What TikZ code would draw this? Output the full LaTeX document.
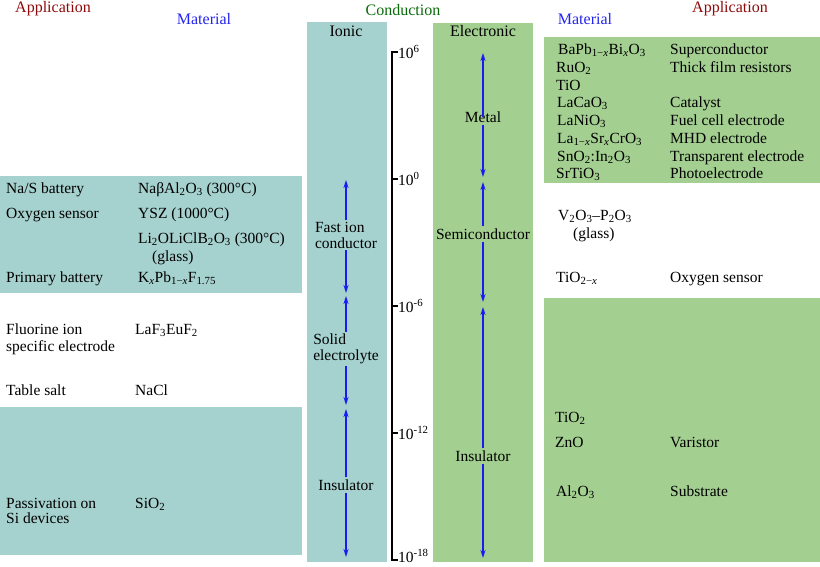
\documentclass[tikz,border=0pt]{standalone}
\usepackage{fontspec}
\setmainfont{Liberation Serif}
\usetikzlibrary{arrows.meta}
\newcommand\myfs{\fontsize{15.5}{16}\selectfont}
\newcommand\chsub[1]{\textsubscript{#1}}
\definecolor{ionteal}{HTML}{A5D1CE}
\definecolor{elgreen}{HTML}{A3CF90}
\definecolor{apred}{HTML}{8E0A0A}
\definecolor{matblue}{HTML}{2424F0}
\definecolor{condgreen}{HTML}{0A6A0A}
\definecolor{arrblue}{HTML}{1A1AF5}
\begin{document}
\begin{tikzpicture}[x=1pt,y=-1pt,
  txt/.style={anchor=base west,inner sep=0pt,font=\myfs},
  hdr/.style={anchor=center,inner sep=0pt,font=\fontsize{16}{18}\selectfont},
  lbl/.style={anchor=center,inner sep=2pt,font=\myfs,align=center},
  arr/.style={draw=arrblue,line width=1.4pt,-{Stealth[length=8pt,width=5pt]}},
  tick/.style={line width=2pt},
  ticklbl/.style={anchor=base west,inner sep=0pt,font=\myfs}]
\useasboundingbox (0,0) rectangle (820,566);
% background panels
\fill[ionteal] (0,176) rectangle (302,293);
\fill[ionteal] (0,407) rectangle (302,555);
\fill[ionteal] (307,22) rectangle (387,562);
\fill[elgreen] (433,23) rectangle (533,562);
\fill[elgreen] (544,37) rectangle (820,183);
\fill[elgreen] (544,298) rectangle (820,562);
% headers
\node[hdr,text=apred] (hApL) at (53,9) {Application};
\node[hdr,text=matblue] (hMatL) at (204,19) {Material};
\node[hdr,text=condgreen] (hCond) at (403,10) {Conduction};
\node[hdr] (hIon) at (346,31) {Ionic};
\node[hdr] (hEl) at (483,31) {Electronic};
\node[hdr,text=matblue] (hMatR) at (585,19) {Material};
\node[hdr,text=apred] (hApR) at (730,9) {Application};
% axis
\coordinate (axTop) at (392,52);
\coordinate (axBot) at (392,560);
\draw[tick] (398,52) -- (axTop) -- (axBot) -- (398,560);
\foreach \yy in {179,306,433}{
  \draw[tick] (392,\yy) -- (398,\yy);
}
\node[ticklbl] (l6) at (398,58) {10\textsuperscript{6}};
\node[ticklbl] (l0) at (398,185) {10\textsuperscript{0}};
\node[ticklbl] (lm6) at (398,312) {10\textsuperscript{-6}};
\node[ticklbl] (lm12) at (398,439) {10\textsuperscript{-12}};
\node[ticklbl] (lm18) at (398,562) {10\textsuperscript{-18}};
% ionic column
\node[lbl,align=left] (fic) at (346,235) {Fast ion\\conductor};
\node[lbl,align=left] (se) at (346,349) {Solid\\electrolyte};
\node[lbl] (ins1) at (346,485) {Insulator};
\coordinate (a1) at (346,180);
\coordinate (a2) at (346,293);
\coordinate (a3) at (346,296);
\coordinate (a4) at (346,405);
\coordinate (a5) at (346,409);
\coordinate (a6) at (346,557);
\draw[arr] (fic.north) -- (a1);
\draw[arr] (fic.south) -- (a2);
\draw[arr] (se.north) -- (a3);
\draw[arr] (se.south) -- (a4);
\draw[arr] (ins1.north) -- (a5);
\draw[arr] (ins1.south) -- (a6);
% electronic column
\node[lbl] (metal) at (483,117) {Metal};
\node[lbl] (semi) at (483,234) {Semiconductor};
\node[lbl] (ins2) at (483,456) {Insulator};
\coordinate (b1) at (483,53);
\coordinate (b2) at (483,177);
\coordinate (b3) at (483,182);
\coordinate (b4) at (483,302);
\coordinate (b5) at (483,307);
\coordinate (b6) at (483,558);
\draw[arr] ([yshift=-8pt]metal.north) -- (b1);
\draw[arr] (metal.south) -- (b2);
\draw[arr] (semi.north) -- (b3);
\draw[arr] (semi.south) -- (b4);
\draw[arr] (ins2.north) -- (b5);
\draw[arr] (ins2.south) -- (b6);
% left texts
\node[txt] (nas) at (6,193) {Na/S battery};
\node[txt] (nasm) at (138,193) {NaβAl\chsub{2}O\chsub{3} (300°C)};
\node[txt] (oxy) at (6,218) {Oxygen sensor};
\node[txt] (ysz) at (138,218) {YSZ (1000°C)};
\node[txt] (li) at (138,243) {Li\chsub{2}OLiClB\chsub{2}O\chsub{3} (300°C)};
\node[txt] (gl1) at (152,261) {(glass)};
\node[txt] (prim) at (6,282) {Primary battery};
\node[txt] (kpb) at (138,282) {K\chsub{\textit{x}}Pb\chsub{1−\textit{x}}F\chsub{1.75}};
\node[txt] (fl1) at (6,334) {Fluorine ion};
\node[txt] (fl2) at (6,351) {specific electrode};
\node[txt] (laf) at (135,334) {LaF\chsub{3}EuF\chsub{2}};
\node[txt] (salt) at (6,395) {Table salt};
\node[txt] (nacl) at (135,395) {NaCl};
\node[txt] (pas1) at (6,508) {Passivation on};
\node[txt] (pas2) at (6,523) {Si devices};
\node[txt] (sio) at (135,508) {SiO\chsub{2}};
% right texts
\node[txt] (m1) at (558,54) {BaPb\chsub{1−\textit{x}}Bi\chsub{\textit{x}}O\chsub{3}};
\node[txt] (m2) at (556,72) {RuO\chsub{2}};
\node[txt] (m3) at (556,90) {TiO};
\node[txt] (m4) at (557,107) {LaCaO\chsub{3}};
\node[txt] (m5) at (557,125) {LaNiO\chsub{3}};
\node[txt] (m6) at (557,143) {La\chsub{1−\textit{x}}Sr\chsub{\textit{x}}CrO\chsub{3}};
\node[txt] (m7) at (557,161) {SnO\chsub{2}:In\chsub{2}O\chsub{3}};
\node[txt] (m8) at (556,178) {SrTiO\chsub{3}};
\node[txt] (p1) at (670,54) {Superconductor};
\node[txt] (p2) at (670,72) {Thick film resistors};
\node[txt] (p4) at (670,107) {Catalyst};
\node[txt] (p5) at (670,125) {Fuel cell electrode};
\node[txt] (p6) at (670,143) {MHD electrode};
\node[txt] (p7) at (670,161) {Transparent electrode};
\node[txt] (p8) at (670,178) {Photoelectrode};
\node[txt] (vo) at (558,220) {V\chsub{2}O\chsub{3}–P\chsub{2}O\chsub{3}};
\node[txt] (gl2) at (573,238) {(glass)};
\node[txt] (tio2x) at (556,282) {TiO\chsub{2−\textit{x}}};
\node[txt] (oxs) at (670,282) {Oxygen sensor};
\node[txt] (tio2) at (555,422) {TiO\chsub{2}};
\node[txt] (zno) at (555,447) {ZnO};
\node[txt] (var) at (670,447) {Varistor};
\node[txt] (alo) at (556,496) {Al\chsub{2}O\chsub{3}};
\node[txt] (sub) at (670,496) {Substrate};
\end{tikzpicture}
\end{document}
